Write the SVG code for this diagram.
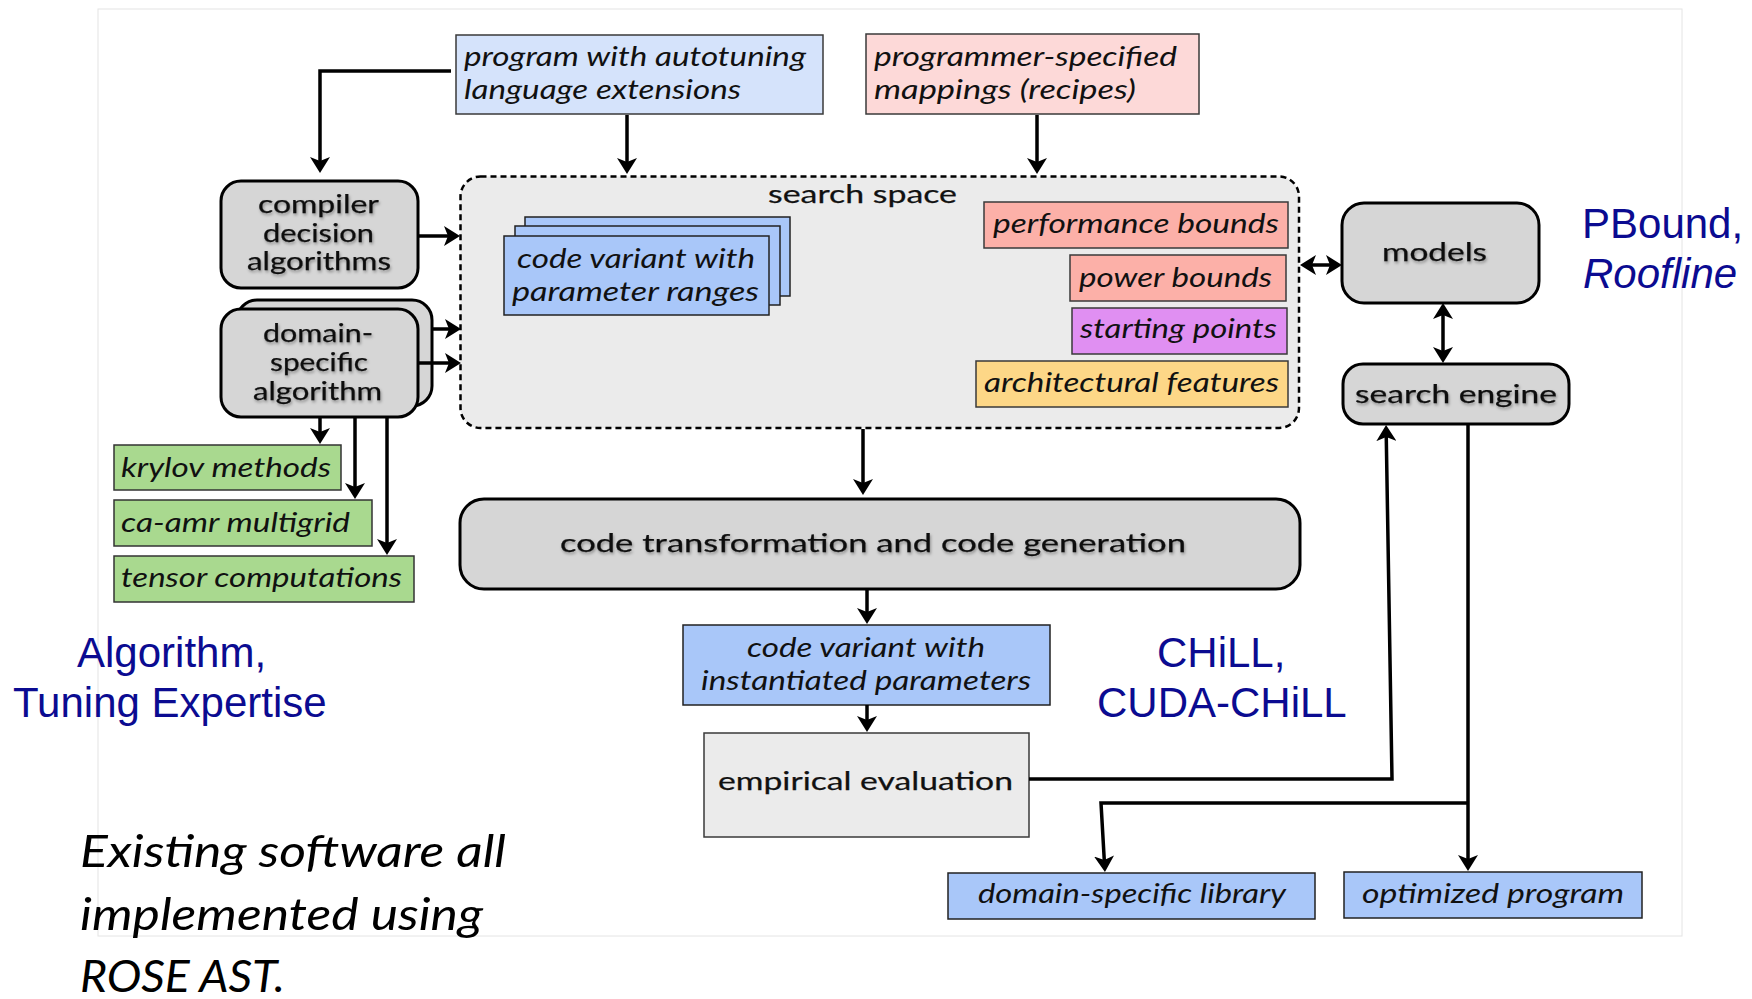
<svg xmlns="http://www.w3.org/2000/svg" width="1752" height="999" viewBox="0 0 1752 999">
  <style>
    .lbl { font-family: Lato, "Noto Sans", "DejaVu Sans", sans-serif; fill: #111; }
    .it { font-style: italic; font-size: 27px; }
    .rg { font-size: 25.5px; stroke: #111; stroke-width: 0.25; }
    .sh { filter: url(#tshadow); }
    .blue { font-family: "Liberation Sans", Arial, sans-serif; font-size: 42px; fill: #0b0b91; }
    .note { font-family: Lato, "Open Sans", sans-serif; font-style: italic; font-size: 45px; fill: #000; }
    .box { stroke: #3a3a3a; stroke-width: 1.5; }
    .gbox { fill: #d6d6d6; stroke: #000; stroke-width: 3; }
    .bluebox { fill: #a9c7f9; stroke: #222; stroke-width: 1.5; }
    .greenbox { fill: #a9d98f; stroke: #333; stroke-width: 1.5; }
    .conn path { fill: none; stroke: #000; stroke-width: 3.5; }
  </style>
  <defs>
    <marker id="arr" viewBox="0 0 16 20" markerWidth="16" markerHeight="20" refX="8" refY="10" orient="auto-start-reverse" markerUnits="userSpaceOnUse">
      <path d="M0,0 L16,10 L0,20 L4,10 z" fill="#000"/>
    </marker>
    <filter id="tshadow" x="-10%" y="-30%" width="120%" height="170%">
      <feDropShadow dx="1" dy="2" stdDeviation="1.5" flood-color="#000" flood-opacity="0.35"/>
    </filter>
  </defs>

  <!-- slide frame -->
  <rect x="98" y="9" width="1584" height="927" fill="#fff" stroke="#e4e4e4" stroke-width="1"/>

  <!-- search space container -->
  <g id="search-space">
    <rect x="460.5" y="176.5" width="838.5" height="251.5" rx="20" fill="#ebebeb" stroke="#000" stroke-width="2.5" stroke-dasharray="6 4"/>
    <text class="lbl rg" x="768" y="203" textLength="189" lengthAdjust="spacingAndGlyphs">search space</text>
  </g>

  <g id="program">
    <rect class="box" x="456" y="35" width="367" height="79" fill="#d5e3fb"/>
    <text class="lbl it" x="464" y="66" textLength="342" lengthAdjust="spacingAndGlyphs">program with autotuning</text>
    <text class="lbl it" x="464" y="99" textLength="277" lengthAdjust="spacingAndGlyphs">language extensions</text>
  </g>

  <g id="recipes">
    <rect class="box" x="866" y="34" width="333" height="80" fill="#fdd9d8"/>
    <text class="lbl it" x="874" y="66" textLength="303" lengthAdjust="spacingAndGlyphs">programmer-specified</text>
    <text class="lbl it" x="874" y="99" textLength="262" lengthAdjust="spacingAndGlyphs">mappings (recipes)</text>
  </g>

  <g id="compiler">
    <rect class="gbox" x="221" y="181" width="197" height="107" rx="20"/>
    <g class="sh">
      <text class="lbl rg" x="258" y="213" textLength="121" lengthAdjust="spacingAndGlyphs">compiler</text>
      <text class="lbl rg" x="263" y="241.5" textLength="111" lengthAdjust="spacingAndGlyphs">decision</text>
      <text class="lbl rg" x="247" y="270" textLength="144" lengthAdjust="spacingAndGlyphs">algorithms</text>
    </g>
  </g>

  <g id="domain-algorithm">
    <rect class="gbox" x="237" y="300" width="195" height="106" rx="20"/>
    <rect class="gbox" x="221" y="309" width="197" height="108" rx="20"/>
    <g class="sh">
      <text class="lbl rg" x="263" y="341.5" textLength="110" lengthAdjust="spacingAndGlyphs">domain-</text>
      <text class="lbl rg" x="270" y="371" textLength="98" lengthAdjust="spacingAndGlyphs">specific</text>
      <text class="lbl rg" x="253" y="400" textLength="129" lengthAdjust="spacingAndGlyphs">algorithm</text>
    </g>
  </g>

  <g id="code-variant-ranges">
    <rect class="bluebox" x="525" y="217" width="265" height="79"/>
    <rect class="bluebox" x="515" y="226" width="265" height="79"/>
    <rect class="bluebox" x="504" y="236" width="265" height="79"/>
    <text class="lbl it" x="517" y="268" textLength="238" lengthAdjust="spacingAndGlyphs">code variant with</text>
    <text class="lbl it" x="512" y="301" textLength="247" lengthAdjust="spacingAndGlyphs">parameter ranges</text>
  </g>

  <g id="performance-bounds">
    <rect class="box" x="984" y="202" width="304" height="46" fill="#fcb0a8"/>
    <text class="lbl it" x="993" y="233" textLength="286" lengthAdjust="spacingAndGlyphs">performance bounds</text>
  </g>
  <g id="power-bounds">
    <rect class="box" x="1070" y="255" width="216" height="46" fill="#fcb0a8"/>
    <text class="lbl it" x="1079" y="286.5" textLength="193" lengthAdjust="spacingAndGlyphs">power bounds</text>
  </g>
  <g id="starting-points">
    <rect class="box" x="1072" y="308" width="215" height="46" fill="#e08ff2"/>
    <text class="lbl it" x="1080" y="338" textLength="197" lengthAdjust="spacingAndGlyphs">starting points</text>
  </g>
  <g id="architectural-features">
    <rect class="box" x="976" y="361" width="312" height="46" fill="#fdd787"/>
    <text class="lbl it" x="984" y="391.5" textLength="295" lengthAdjust="spacingAndGlyphs">architectural features</text>
  </g>

  <g id="models">
    <rect class="gbox" x="1342" y="203" width="197" height="100" rx="22"/>
    <text class="lbl rg sh" x="1382" y="261" textLength="105" lengthAdjust="spacingAndGlyphs">models</text>
  </g>

  <g id="search-engine">
    <rect class="gbox" x="1343" y="364" width="226" height="60" rx="20"/>
    <text class="lbl rg sh" x="1355" y="403" textLength="202" lengthAdjust="spacingAndGlyphs">search engine</text>
  </g>

  <g id="krylov">
    <rect class="greenbox" x="114" y="445" width="227" height="45"/>
    <text class="lbl it" x="121" y="476.5" textLength="210" lengthAdjust="spacingAndGlyphs">krylov methods</text>
  </g>
  <g id="ca-amr">
    <rect class="greenbox" x="114" y="500" width="258" height="46"/>
    <text class="lbl it" x="121" y="531.5" textLength="229" lengthAdjust="spacingAndGlyphs">ca-amr multigrid</text>
  </g>
  <g id="tensor">
    <rect class="greenbox" x="114" y="556" width="300" height="46"/>
    <text class="lbl it" x="121" y="587" textLength="281" lengthAdjust="spacingAndGlyphs">tensor computations</text>
  </g>

  <g id="code-generation">
    <rect class="gbox" x="460" y="499" width="840" height="90" rx="24"/>
    <text class="lbl rg sh" x="560" y="552" textLength="626" lengthAdjust="spacingAndGlyphs">code transformation and code generation</text>
  </g>

  <g id="code-variant-instantiated">
    <rect class="bluebox" x="683" y="625" width="367" height="80"/>
    <text class="lbl it" x="747" y="657" textLength="238" lengthAdjust="spacingAndGlyphs">code variant with</text>
    <text class="lbl it" x="701" y="690" textLength="330" lengthAdjust="spacingAndGlyphs">instantiated parameters</text>
  </g>

  <g id="empirical-evaluation">
    <rect class="box" x="704" y="733" width="325" height="104" fill="#ebebeb"/>
    <text class="lbl rg" x="718" y="790" textLength="295" lengthAdjust="spacingAndGlyphs">empirical evaluation</text>
  </g>

  <g id="domain-library">
    <rect class="bluebox" x="948" y="873" width="367" height="46"/>
    <text class="lbl it" x="978" y="903" textLength="308" lengthAdjust="spacingAndGlyphs">domain-specific library</text>
  </g>
  <g id="optimized-program">
    <rect class="bluebox" x="1344" y="872" width="298" height="46"/>
    <text class="lbl it" x="1362" y="903" textLength="262" lengthAdjust="spacingAndGlyphs">optimized program</text>
  </g>

  <!-- connectors -->
  <g id="connectors" class="conn">
    <path d="M451,71 H320 V165" marker-end="url(#arr)"/>
    <path d="M627,115 V166" marker-end="url(#arr)"/>
    <path d="M1037,115 V166" marker-end="url(#arr)"/>
    <path d="M418,236 H452" marker-end="url(#arr)"/>
    <path d="M432,329 H453" marker-end="url(#arr)"/>
    <path d="M418,363 H453" marker-end="url(#arr)"/>
    <path d="M320,417 V436" marker-end="url(#arr)"/>
    <path d="M355,417 V491" marker-end="url(#arr)"/>
    <path d="M387,417 V547" marker-end="url(#arr)"/>
    <path d="M1308,265 H1334" marker-start="url(#arr)" marker-end="url(#arr)"/>
    <path d="M1443,311 V355" marker-start="url(#arr)" marker-end="url(#arr)"/>
    <path d="M863,429 V487" marker-end="url(#arr)"/>
    <path d="M867,589 V616" marker-end="url(#arr)"/>
    <path d="M867,705 V724" marker-end="url(#arr)"/>
    <path d="M1029,779 H1392 L1386.2,433" marker-end="url(#arr)"/>
    <path d="M1468,424 V863" marker-end="url(#arr)"/>
    <path d="M1468,803 H1101 L1104.5,864" marker-end="url(#arr)"/>
  </g>

  <!-- tool annotations -->
  <g id="annotations">
    <text class="blue" x="1582" y="238">PBound,</text>
    <text class="blue" x="1583" y="288" font-style="italic">Roofline</text>
    <text class="blue" x="1157" y="667">CHiLL,</text>
    <text class="blue" x="1097" y="717">CUDA-CHiLL</text>
    <text class="blue" x="77" y="667">Algorithm,</text>
    <text class="blue" x="13" y="717">Tuning Expertise</text>
    <text class="note" x="80" y="867" textLength="426" lengthAdjust="spacingAndGlyphs">Existing software all</text>
    <text class="note" x="80" y="930" textLength="403" lengthAdjust="spacingAndGlyphs">implemented using</text>
    <text class="note" x="80" y="992" textLength="205" lengthAdjust="spacingAndGlyphs">ROSE AST.</text>
  </g>
</svg>
